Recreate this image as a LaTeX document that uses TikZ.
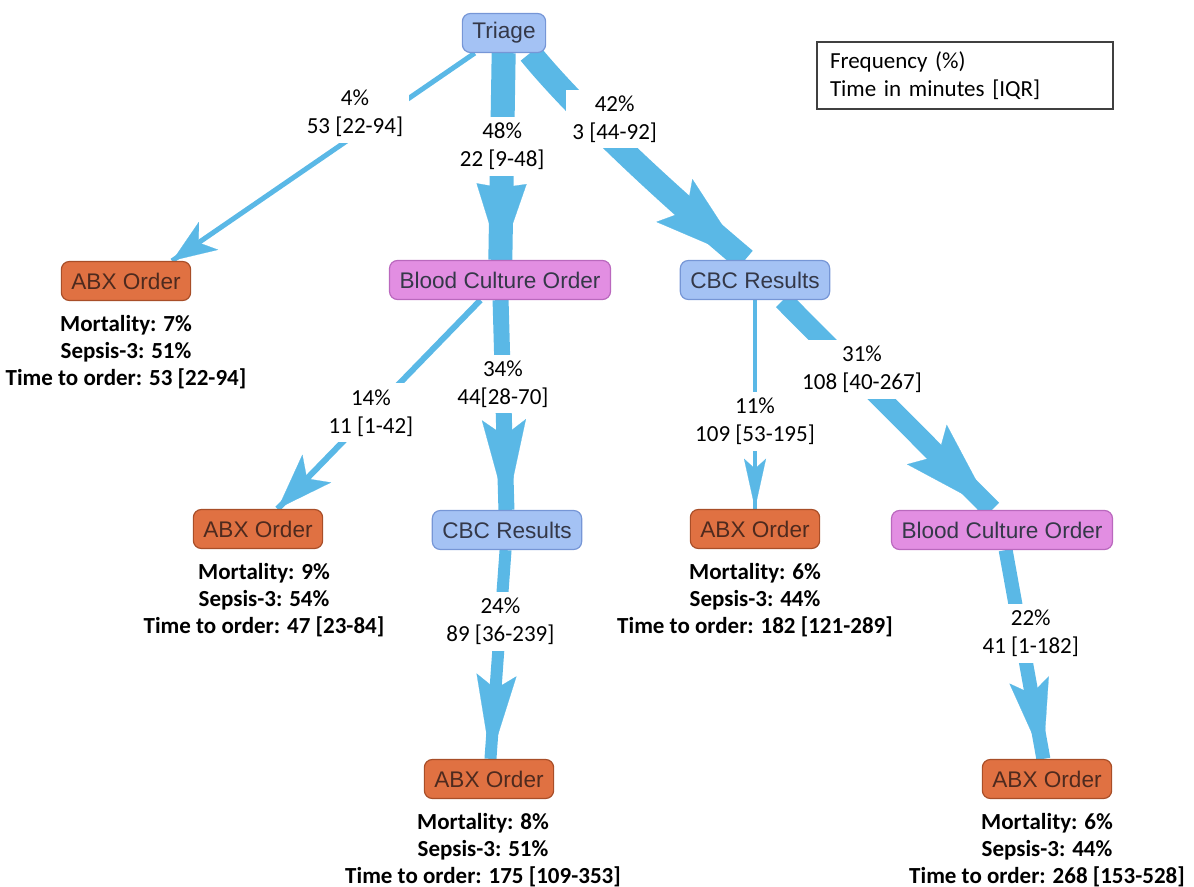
\documentclass[tikz,border=0pt]{standalone}
\usepackage{fontspec}
\setmainfont{Carlito}
\setsansfont{Liberation Sans}
\usetikzlibrary{positioning,arrows.meta,decorations.markings,backgrounds}

\definecolor{flowblue}{RGB}{90,184,230}
\definecolor{cbcfill}{RGB}{164,194,244}
\definecolor{cbcline}{RGB}{118,150,214}
\definecolor{bcofill}{RGB}{226,142,226}
\definecolor{bcoline}{RGB}{186,104,190}
\definecolor{abxfill}{RGB}{224,113,66}
\definecolor{abxline}{RGB}{168,78,40}
\definecolor{boxtext}{RGB}{52,56,72}
\definecolor{abxtext}{RGB}{78,42,30}

\tikzset{
  event/.style={rectangle, rounded corners=4pt, line width=0.6pt, minimum height=19.5pt,
    inner xsep=5pt, inner ysep=2pt, font=\sffamily\fontsize{11.3}{13}\selectfont, text=boxtext},
  cbc/.style={event, fill=cbcfill, draw=cbcline},
  bco/.style={event, fill=bcofill, draw=bcoline},
  abx/.style={event, fill=abxfill, draw=abxline, text=abxtext},
  stats/.style={align=center, font=\bfseries\fontsize{11.5}{13.5}\selectfont, inner sep=0pt},
  lbl/.style={fill=white, align=center, font=\fontsize{11.5}{14}\selectfont, inner sep=3pt},
  flow/.style={draw=flowblue, line cap=butt},
  head/.style n args={3}{postaction={decorate, decoration={markings,
    mark=at position 0.999 with {\arrow{Stealth[length=#1, width=#2, inset=#3, line width=0.1pt, color=flowblue]}}}}},
}

\begin{document}
\begin{tikzpicture}[x=0.5pt, y=-0.5pt]
  \useasboundingbox (0,0) rectangle (1194,887);

  % events
  \node[cbc] (triage) at (504,33) {Triage};
  \node[abx] (abxA) at (126,281) {ABX Order};
  \node[bco] (bcoA) at (500,280) {Blood Culture Order};
  \node[cbc] (cbcA) at (755,280) {CBC Results};
  \node[abx] (abxB) at (258,529) {ABX Order};
  \node[cbc] (cbcB) at (507,530) {CBC Results};
  \node[abx] (abxC) at (755,529) {ABX Order};
  \node[bco] (bcoB) at (1002,530) {Blood Culture Order};
  \node[abx] (abxD) at (489,779) {ABX Order};
  \node[abx] (abxE) at (1047,779) {ABX Order};

  % outcomes under each ABX order
  \node[stats, below=7pt of abxA] (sumA) {Mortality: 7\%\\Sepsis-3: 51\%\\Time to order: 53 [22-94]};
  \node[stats, below=7pt of abxB, xshift=3pt] (sumB) {Mortality: 9\%\\Sepsis-3: 54\%\\Time to order: 47 [23-84]};
  \node[stats, below=7pt of abxC] (sumC) {Mortality: 6\%\\Sepsis-3: 44\%\\Time to order: 182 [121-289]};
  \node[stats, below=7pt of abxD, xshift=-3pt] (sumD) {Mortality: 8\%\\Sepsis-3: 51\%\\Time to order: 175 [109-353]};
  \node[stats, below=7pt of abxE] (sumE) {Mortality: 6\%\\Sepsis-3: 44\%\\Time to order: 268 [153-528]};

  % legend
  \node[draw=black!75, line width=0.7pt, minimum width=148pt, minimum height=33.5pt, text width=135pt,
    inner xsep=6.5pt, align=left, font=\fontsize{11.5}{14}\selectfont] (key) at (965,75.5)
    {Frequency (\%)\\Time in minutes [IQR]};

  % flows
  \begin{scope}[on background layer]
    \draw[flow, line width=2.5pt, head={22pt}{17pt}{6pt}] (triage) -- node[lbl, pos=0.29, xshift=-16pt] {4\%\\53 [22-94]} ([xshift=23pt]abxA.north);
    \draw[flow, line width=12pt, head={38pt}{25pt}{2pt}] (triage) -- node[lbl, pos=0.45] {48\%\\22 [9-48]} (bcoA);
    \draw[flow, line width=12pt, head={46pt}{28pt}{8pt}] ([xshift=13pt]triage.south) .. controls (568,100) and (650,180) .. ([xshift=-5pt]cbcA.north)
      node[lbl, pos=0.36, xshift=14pt, yshift=-2pt] {42\%\\3 [44-92]};
    \draw[flow, line width=3pt, head={28pt}{20pt}{7pt}] (bcoA) -- node[lbl, pos=0.54] {14\%\\11 [1-42]} (abxB);
    \draw[flow, line width=8pt, head={45pt}{22pt}{8pt}] (bcoA) -- node[lbl, pos=0.4] {34\%\\44[28-70]} (cbcB);
    \draw[flow, line width=2pt, head={25pt}{11pt}{5pt}] (cbcA) -- node[lbl, pos=0.58] {11\%\\109 [53-195]} (abxC);
    \draw[flow, line width=10pt, head={46pt}{28pt}{8pt}] ([xshift=14pt]cbcA.south) -- node[lbl, pos=0.33, xshift=5pt] {31\%\\108 [40-267]} ([xshift=-5pt]bcoB.north);
    \draw[flow, line width=6pt, head={42pt}{20pt}{7pt}] (cbcB) -- node[lbl, pos=0.34] {24\%\\89 [36-239]} (abxD);
    \draw[flow, line width=7pt, head={40pt}{20pt}{7pt}] (bcoB) -- node[lbl, pos=0.4, xshift=5pt] {22\%\\41 [1-182]} (abxE);
  \end{scope}
\end{tikzpicture}
\end{document}
